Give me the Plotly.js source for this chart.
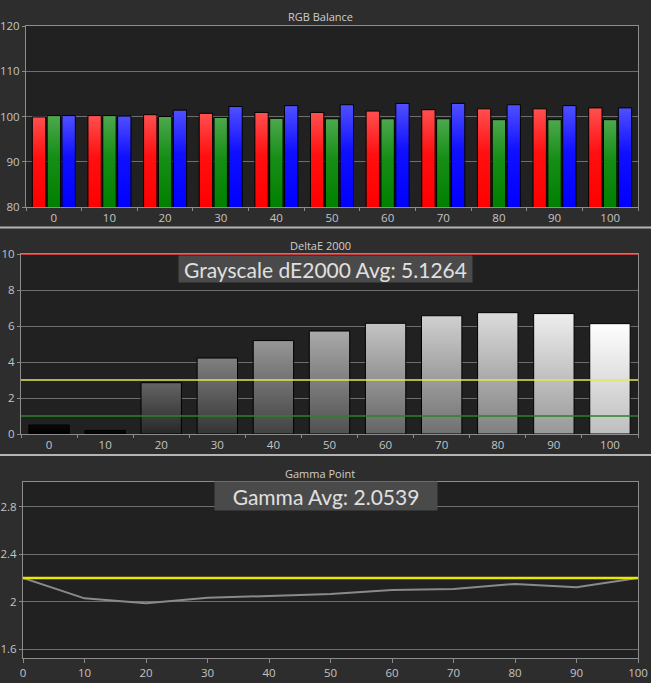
<!DOCTYPE html>
<html>
<head>
<meta charset="utf-8">
<script src="https://cdn.plot.ly/plotly-3.0.1.min.js"></script>
<style>
html,body{margin:0;padding:0;background:#2d2d2d;}
#chart{width:651px;height:683px;}
</style>
</head>
<body>
<div id="chart"></div>
<script>
// ---------- DATA ----------
const levels = ['0','10','20','30','40','50','60','70','80','90','100'];
const redBalance   = [99.9, 100.2, 100.4, 100.7, 100.9, 100.9, 101.2, 101.5, 101.7, 101.7, 101.9];
const greenBalance = [100.2, 100.2, 100.0, 99.8, 99.6, 99.5, 99.5, 99.5, 99.3, 99.3, 99.3];
const blueBalance  = [100.2, 100.1, 101.4, 102.2, 102.4, 102.6, 102.9, 102.9, 102.6, 102.4, 101.9];

const deltaE = [0.5, 0.2, 2.85, 4.22, 5.19, 5.72, 6.15, 6.57, 6.74, 6.69, 6.13];
const deltaEAvgText = 'Grayscale dE2000 Avg: 5.1264';
const deltaEMax = 10;
const deltaEYellow = 3;
const deltaEGreen = 1;

const gammaX = [0, 10, 20, 30, 40, 50, 60, 70, 80, 90, 100];
const gammaY = [2.2, 2.028, 1.986, 2.034, 2.048, 2.065, 2.099, 2.107, 2.15, 2.121, 2.2];
const gammaTarget = 2.2;
const gammaAvgText = 'Gamma Avg: 2.0539';
const gammaTickVals = [1.6, 2, 2.4, 2.8];
const gammaTickText = ['1.6', '2', '2.4', '2.8'];

const panelTitles = ['RGB Balance', 'DeltaE 2000', 'Gamma Point'];

// ---------- STYLE ----------
const W = 651, H = 683;
const px = p => p / W;
const py = p => 1 - p / H;
const grayTop = [10, 10, 100, 128, 150, 170, 196, 208, 220, 238, 255];
const grayBottom = [0, 0, 40, 52, 66, 80, 100, 112, 128, 152, 190];

const tickFont = {family: 'Open Sans, sans-serif', size: 11.5, color: '#c4c4c4'};
const gridColor = '#6e6e6e';
const frameColor = '#8c8c8c';

const baseAxis = {
  showline: true, mirror: true, linecolor: frameColor, linewidth: 1,
  gridcolor: gridColor, gridwidth: 1, zeroline: false,
  ticks: 'outside', ticklen: 4, tickcolor: frameColor, tickfont: tickFont,
  fixedrange: true
};

const data = [
  {type: 'bar', x: levels, y: redBalance, name: 'R', xaxis: 'x', yaxis: 'y',
   marker: {color: '#ff1010', line: {color: '#000', width: 1}}},
  {type: 'bar', x: levels, y: greenBalance, name: 'G', xaxis: 'x', yaxis: 'y',
   marker: {color: '#108e10', line: {color: '#000', width: 1}}},
  {type: 'bar', x: levels, y: blueBalance, name: 'B', xaxis: 'x', yaxis: 'y',
   marker: {color: '#1010ff', line: {color: '#000', width: 1}}},
  {type: 'bar', x: levels, y: deltaE, name: 'dE', xaxis: 'x2', yaxis: 'y2',
   marker: {color: grayTop.map(g => `rgb(${g},${g},${g})`), line: {color: '#000', width: 1}}},
  {type: 'scatter', mode: 'lines', x: gammaX, y: gammaY, name: 'gamma', xaxis: 'x3', yaxis: 'y3',
   line: {color: '#8a8a8a', width: 2}}
];

const layout = {
  width: W, height: H,
  margin: {l: 0, r: 0, t: 0, b: 0},
  paper_bgcolor: '#2d2d2d',
  plot_bgcolor: '#212121',
  showlegend: false,
  barmode: 'group',
  bargap: 0.2,
  bargroupgap: 0.1,
  xaxis: Object.assign({}, baseAxis, {domain: [px(26), px(638)], anchor: 'y', type: 'category',
    tickson: 'boundaries', ticklen: 3, showgrid: false}),
  yaxis: Object.assign({}, baseAxis, {domain: [py(207), py(26)], anchor: 'x', range: [80, 120], dtick: 10, ticklen: 3}),
  xaxis2: Object.assign({}, baseAxis, {domain: [px(21), px(638)], anchor: 'y2', type: 'category',
    tickson: 'boundaries', ticklen: 3, showgrid: false}),
  yaxis2: Object.assign({}, baseAxis, {domain: [py(434), py(254)], anchor: 'x2', range: [0, 10], dtick: 2, ticklen: 3}),
  xaxis3: Object.assign({}, baseAxis, {domain: [px(23), px(638)], anchor: 'y3', range: [0, 100], dtick: 10, showgrid: false}),
  yaxis3: Object.assign({}, baseAxis, {domain: [py(658), py(482)], anchor: 'x3', range: [1.524, 3.011], ticklen: 3,
    tickmode: 'array', tickvals: gammaTickVals, ticktext: gammaTickText}),
  shapes: [
    {type: 'line', xref: 'paper', yref: 'paper', x0: 0, x1: 1, y0: py(227.5), y1: py(227.5),
     line: {color: '#b4b4b4', width: 2}},
    {type: 'line', xref: 'paper', yref: 'paper', x0: 0, x1: 1, y0: py(455), y1: py(455),
     line: {color: '#b4b4b4', width: 2}},
    {type: 'line', xref: 'x2 domain', yref: 'y2', x0: 0, x1: 1, y0: deltaEMax, y1: deltaEMax,
     layer: 'above', line: {color: '#c83c3c', width: 2}},
    {type: 'line', xref: 'x2 domain', yref: 'y2', x0: 0, x1: 1, y0: deltaEYellow, y1: deltaEYellow,
     layer: 'above', line: {color: '#e6e65a', width: 1.5}},
    {type: 'line', xref: 'x2 domain', yref: 'y2', x0: 0, x1: 1, y0: deltaEGreen, y1: deltaEGreen,
     layer: 'above', line: {color: '#2a822a', width: 1.5}},
    {type: 'line', xref: 'x3 domain', yref: 'y3', x0: 0, x1: 1, y0: gammaTarget, y1: gammaTarget,
     layer: 'above', line: {color: 'rgba(230,230,0,0.25)', width: 4}},
    {type: 'line', xref: 'x3 domain', yref: 'y3', x0: 0, x1: 1, y0: gammaTarget, y1: gammaTarget,
     layer: 'above', line: {color: '#e8e800', width: 2}}
  ],
  annotations: [
    {text: panelTitles[0], xref: 'paper', yref: 'paper', x: px(320), y: py(16), showarrow: false,
     xanchor: 'center', yanchor: 'middle', font: {family: 'Open Sans, sans-serif', size: 11, color: '#cfcfcf'}},
    {text: panelTitles[1], xref: 'paper', yref: 'paper', x: px(320), y: py(245), showarrow: false,
     xanchor: 'center', yanchor: 'middle', font: {family: 'Open Sans, sans-serif', size: 11, color: '#cfcfcf'}},
    {text: panelTitles[2], xref: 'paper', yref: 'paper', x: px(320), y: py(473), showarrow: false,
     xanchor: 'center', yanchor: 'middle', font: {family: 'Open Sans, sans-serif', size: 11, color: '#cfcfcf'}},
    {text: deltaEAvgText, xref: 'paper', yref: 'paper', x: px(325.5), y: py(269), showarrow: false,
     xanchor: 'center', yanchor: 'middle', width: 293, height: 26, borderpad: 0,
     bgcolor: '#4a4a4a', font: {family: 'Lato, sans-serif', size: 21, color: '#e0e0e0'}},
    {text: gammaAvgText, xref: 'paper', yref: 'paper', x: px(326), y: py(496), showarrow: false,
     xanchor: 'center', yanchor: 'middle', width: 222, height: 28, borderpad: 0,
     bgcolor: '#4a4a4a', font: {family: 'Lato, sans-serif', size: 21, color: '#e0e0e0'}}
  ]
};

const barStops = {
  R: [[0, '#ff5050'], [0.45, '#ff1010'], [1, '#ff0000']],
  G: [[0, '#4ea84e'], [0.45, '#168e16'], [1, '#008000']],
  B: [[0, '#5050ff'], [0.45, '#1010ff'], [1, '#0000ff']]
};

// Visual-only styling: apply vertical gradients over the visible part of each bar
function addGradients(gd) {
  const NS = 'http://www.w3.org/2000/svg';
  const svg = gd.querySelector('svg.main-svg');
  let defs = svg.querySelector('defs');
  if (!defs) { defs = document.createElementNS(NS, 'defs'); svg.insertBefore(defs, svg.firstChild); }
  let n = 0;
  function mkGrad(stops, y1, y2) {
    const id = 'bg' + (n++);
    const g = document.createElementNS(NS, 'linearGradient');
    g.setAttribute('id', id);
    g.setAttribute('gradientUnits', 'userSpaceOnUse');
    g.setAttribute('x1', '0'); g.setAttribute('x2', '0');
    g.setAttribute('y1', y1); g.setAttribute('y2', y2);
    stops.forEach(([o, c]) => {
      const s = document.createElementNS(NS, 'stop');
      s.setAttribute('offset', o); s.setAttribute('stop-color', c);
      g.appendChild(s);
    });
    defs.appendChild(g);
    return id;
  }
  const fl = gd._fullLayout;
  gd.querySelectorAll('.barlayer .trace').forEach(el => {
    const cd = el.__data__;
    if (!cd || !cd[0]) return;
    const tr = cd[0].trace;
    const ya = fl[(tr.yaxis || 'y').replace('y', 'yaxis')];
    const plotH = ya._length;
    el.querySelectorAll('.point path').forEach((p, j) => {
      const bb = p.getBBox();
      const top = Math.max(0, bb.y);
      const bot = Math.min(plotH, bb.y + bb.height);
      let stops;
      if (barStops[tr.name]) stops = barStops[tr.name];
      else {
        const t = grayTop[j], b = grayBottom[j];
        stops = [[0, `rgb(${t},${t},${t})`], [1, `rgb(${b},${b},${b})`]];
      }
      const id = mkGrad(stops, top, Math.max(bot, top + 1));
      p.style.fill = `url(#${id})`;
    });
  });
}

Plotly.newPlot('chart', data, layout, {staticPlot: true, displayModeBar: false}).then(addGradients);
</script>
</body>
</html>
